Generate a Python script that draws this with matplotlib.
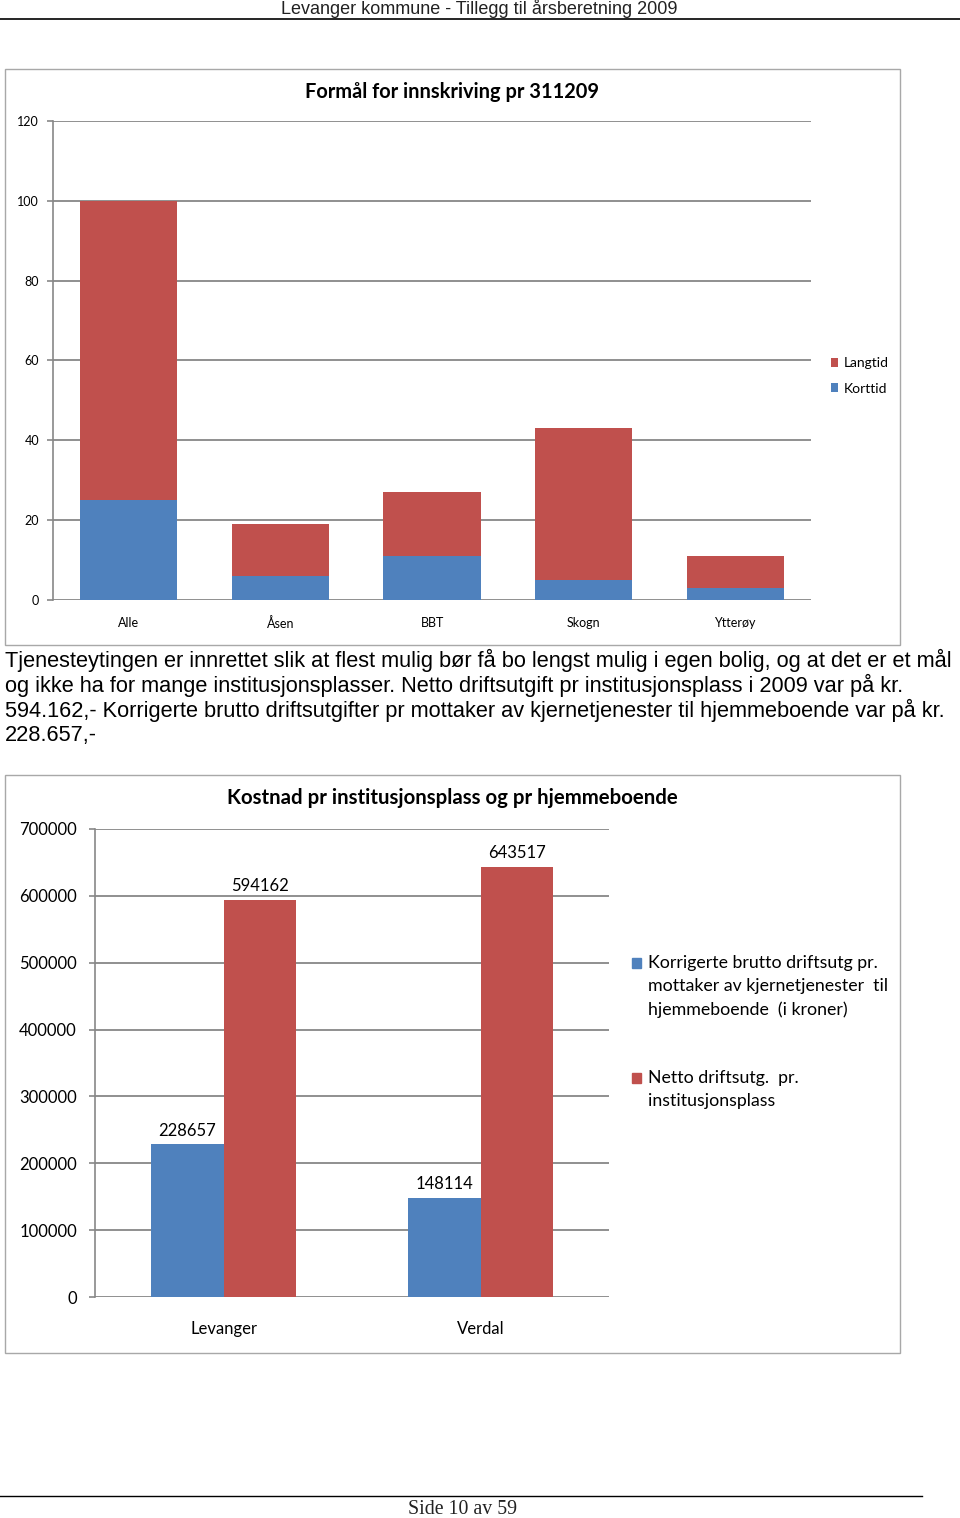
import matplotlib
matplotlib.use("Agg")
import matplotlib.pyplot as plt
from matplotlib.patches import Rectangle


W, H = 960, 1518

BLUE = "#4F81BD"
RED = "#C0504D"
GRID = "#878787"
FRAME = "#A8A8A8"
CHART_FONT = ["Lato", "DejaVu Sans"]

# chart 1: stacked bars
SITES = ["Alle", "Åsen", "BBT", "Skogn", "Ytterøy"]
KORTTID = [25, 6, 11, 5, 3]
LANGTID = [75, 13, 16, 38, 8]
Y1_TICKS = [0, 20, 40, 60, 80, 100, 120]

# chart 2: grouped bars
PLACES = ["Levanger", "Verdal"]
HJEMME = [228657, 148114]
INSTITUSJON = [594162, 643517]
Y2_TICKS = [0, 100000, 200000, 300000, 400000, 500000, 600000, 700000]

HEADER = "Levanger kommune - Tillegg til årsberetning 2009"
FOOTER = "Side 10 av 59"
PARAGRAPH = [
    "Tjenesteytingen er innrettet slik at flest mulig bør få bo lengst mulig i egen bolig, og at det er et mål",
    "og ikke ha for mange institusjonsplasser. Netto driftsutgift pr institusjonsplass i 2009 var på kr.",
    "594.162,- Korrigerte brutto driftsutgifter pr mottaker av kjernetjenester til hjemmeboende var på kr.",
    "228.657,-",
]
LEGEND2 = [
    (BLUE, "Korrigerte brutto driftsutg pr.\nmottaker av kjernetjenester  til\nhjemmeboende  (i kroner)"),
    (RED, "Netto driftsutg.  pr.\ninstitusjonsplass"),
]


def fx(x):
    return x / W


def fy(y):
    return 1 - y / H


def px_rect(x0, y0, x1, y1):
    return [x0 / W, 1 - y1 / H, (x1 - x0) / W, (y1 - y0) / H]


def add_frame(fig, x0, y0, x1, y1):
    fig.add_artist(Rectangle((fx(x0), fy(y1)), (x1 - x0) / W, (y1 - y0) / H,
                             transform=fig.transFigure, fill=False,
                             edgecolor=FRAME, linewidth=1.0))


def style_axes(ax, ticks, labelsize, ypad, xpad):
    ax.set_ylim(ticks[0], ticks[-1])
    ax.set_yticks(ticks)
    ax.set_yticklabels([str(t) for t in ticks])
    ax.grid(axis="y", color=GRID, linewidth=1.3)
    ax.set_axisbelow(True)
    for side in ["top", "right", "bottom"]:
        ax.spines[side].set_visible(False)
    ax.spines["left"].set_color(GRID)
    ax.spines["left"].set_linewidth(1.2)
    ax.tick_params(axis="y", length=4.5, width=1.2, color=GRID, pad=ypad,
                   labelsize=labelsize)
    ax.tick_params(axis="x", length=0, pad=xpad, labelsize=labelsize)
    for lab in ax.get_xticklabels() + ax.get_yticklabels():
        lab.set_family(CHART_FONT)


fig = plt.figure(figsize=(W / 100, H / 100), dpi=100)

# page header / footer
fig.text(fx(479), fy(9), HEADER, ha="center", va="center", fontsize=13,
         family=["Liberation Sans Narrow", "Liberation Sans"], color="#222222")
fig.add_artist(plt.Line2D([0, 1], [fy(19), fy(19)], transform=fig.transFigure,
                          color="black", linewidth=1.2))
fig.add_artist(plt.Line2D([0, fx(922)], [fy(1496), fy(1496)], transform=fig.transFigure,
                          color="black", linewidth=1.0))
fig.text(fx(462), fy(1510), FOOTER, ha="center", va="center", fontsize=14.3,
         family=["Liberation Serif"], color="#222222")

# chart 1
add_frame(fig, 5, 69, 900, 645)
fig.text(fx(452), fy(92), "Formål for innskriving pr 311209", ha="center", va="center",
         fontsize=14.4, fontweight="bold", family=CHART_FONT)
ax1 = fig.add_axes(px_rect(53, 121, 811, 600))
x1 = list(range(len(SITES)))
kort = ax1.bar(x1, KORTTID, width=0.64, color=BLUE, label="Korttid")
lang = ax1.bar(x1, LANGTID, width=0.64, bottom=KORTTID, color=RED, label="Langtid")
ax1.set_xlim(-0.5, len(SITES) - 0.5)
ax1.set_xticks(x1)
ax1.set_xticklabels(SITES)
style_axes(ax1, Y1_TICKS, 9, 5.5, 12)
leg1 = ax1.legend([lang, kort], ["Langtid", "Korttid"], loc="center left",
                  bbox_to_anchor=(fx(825), fy(376)), bbox_transform=fig.transFigure,
                  frameon=False, handlelength=0.55, handleheight=0.55,
                  handletextpad=0.4, labelspacing=0.95, borderaxespad=0,
                  prop={"family": CHART_FONT, "size": 10})

# paragraph
for i, line in enumerate(PARAGRAPH):
    fig.text(fx(5), fy(660 + 25 * i), line, ha="left", va="center", fontsize=15.7,
             family=["Liberation Sans", "DejaVu Sans"])

# chart 2
add_frame(fig, 5, 775, 900, 1353)
fig.text(fx(452), fy(798), "Kostnad pr institusjonsplass og pr hjemmeboende",
         ha="center", va="center", fontsize=14.7, fontweight="bold", family=CHART_FONT)
ax2 = fig.add_axes(px_rect(95, 829, 609, 1297))
x2 = list(range(len(PLACES)))
w2 = 0.284
b_hj = ax2.bar([x - w2 / 2 for x in x2], HJEMME, width=w2, color=BLUE)
b_in = ax2.bar([x + w2 / 2 for x in x2], INSTITUSJON, width=w2, color=RED)
ax2.set_xlim(-0.5, len(PLACES) - 0.5)
ax2.set_xticks(x2)
ax2.set_xticklabels(PLACES)
style_axes(ax2, Y2_TICKS, 12, 8.5, 17)
for bars in (b_hj, b_in):
    for t in ax2.bar_label(bars, padding=4, fontsize=12):
        t.set_family(CHART_FONT)

# chart 2 legend, square beside the first line of each entry
for (color, text), ytop in zip(LEGEND2, [963, 1078]):
    fig.add_artist(Rectangle((fx(632), fy(ytop + 5)), 9 / W, 10 / H,
                             transform=fig.transFigure, color=color))
    fig.text(fx(648), fy(ytop - 8), text, ha="left", va="top", fontsize=12.8,
             family=CHART_FONT, linespacing=1.55)

fig.savefig("out.png", dpi=100)
